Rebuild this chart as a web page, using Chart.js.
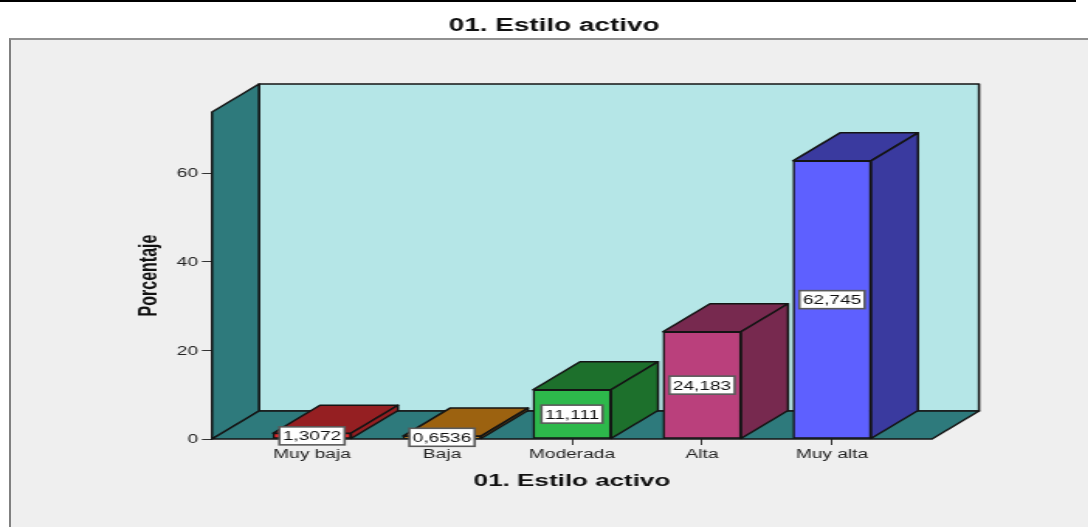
<!DOCTYPE html>
<html>
<head>
<meta charset="utf-8">
<title>01. Estilo activo</title>
<script src="https://cdn.jsdelivr.net/npm/chart.js@4"></script>
<style>
  html, body { margin: 0; padding: 0; background: #fff; overflow: hidden; width: 1088px; height: 527px; }
  #rule { position: absolute; left: 0; top: 0; width: 1076px; height: 2px; background: #000; }
  #panel { position: absolute; left: 9px; top: 38px; right: 0; bottom: 0; background: #efefef;
           border-left: 2px solid #808080; border-top: 2px solid #909090; }
  /* the original picture is a stretched SPSS export, so the whole canvas is stretched too */
  #wrap { position: absolute; left: 0; top: 0; width: 702px; height: 527px;
          transform: scaleX(1.55); transform-origin: 0 0; }
</style>
</head>
<body>
<div id="rule"></div>
<div id="panel"></div>
<div id="wrap"><canvas id="grafico" width="702" height="527"></canvas></div>
<script>
var titulo = '01. Estilo activo';
var tituloY = 'Porcentaje';
var categorias = ['Muy baja', 'Baja', 'Moderada', 'Alta', 'Muy alta'];
var valores = [1.3072, 0.6536, 11.111, 24.183, 62.745];
var etiquetas = ['1,3072', '0,6536', '11,111', '24,183', '62,745'];
var ticksY = [0, 20, 40, 60];
var coloresFrente = ['#e8282c', '#e08a18', '#2db84b', '#ba407c', '#5e60ff'];
var coloresLado = ['#951f22', '#9c6210', '#1d702c', '#77294f', '#3a3a9f'];

var fondoPared = '#b5e6e7';
var paredLado = '#2e7a7c';
var linea = '#141414';
var escala = 1.55;
var profX = 47 / escala;
var profY = 28;

function poligono(ctx, puntos, color) {
  ctx.beginPath();
  ctx.moveTo(puntos[0][0], puntos[0][1]);
  for (let i = 1; i < puntos.length; i++) {
    ctx.lineTo(puntos[i][0], puntos[i][1]);
  }
  ctx.closePath();
  ctx.fillStyle = color;
  ctx.fill();
  ctx.stroke();
}

var caja3d = {
  id: 'caja3d',
  beforeDatasetsDraw(chart) {
    const ctx = chart.ctx;
    const a = chart.chartArea;
    ctx.save();
    ctx.strokeStyle = linea;
    ctx.lineWidth = 1.5;
    ctx.lineJoin = 'round';
    // paredes y piso
    poligono(ctx, [[a.left + profX, a.top - profY], [a.right + profX, a.top - profY],
                   [a.right + profX, a.bottom - profY], [a.left + profX, a.bottom - profY]], fondoPared);
    poligono(ctx, [[a.left, a.top], [a.left + profX, a.top - profY],
                   [a.left + profX, a.bottom - profY], [a.left, a.bottom]], paredLado);
    poligono(ctx, [[a.left, a.bottom], [a.left + profX, a.bottom - profY],
                   [a.right + profX, a.bottom - profY], [a.right, a.bottom]], paredLado);
    // cara superior y lateral de cada barra
    chart.getDatasetMeta(0).data.forEach(function(bar, i) {
      const p = bar.getProps(['x', 'y', 'base', 'width'], true);
      const izq = p.x - p.width / 2;
      const der = p.x + p.width / 2;
      poligono(ctx, [[izq, p.y], [izq + profX, p.y - profY], [der + profX, p.y - profY], [der, p.y]], coloresLado[i]);
      poligono(ctx, [[der, p.y], [der + profX, p.y - profY], [der + profX, p.base - profY], [der, p.base]], coloresLado[i]);
    });
    ctx.restore();
  },
  afterDatasetsDraw(chart) {
    const ctx = chart.ctx;
    ctx.save();
    ctx.font = '12.3px "Liberation Sans", Arial, sans-serif';
    ctx.textAlign = 'center';
    ctx.textBaseline = 'middle';
    chart.getDatasetMeta(0).data.forEach(function(bar, i) {
      const p = bar.getProps(['x', 'y', 'base'], true);
      const cy = (p.y + p.base) / 2;
      const w = ctx.measureText(etiquetas[i]).width + 4.5;
      const h = 18;
      ctx.fillStyle = '#fff';
      ctx.strokeStyle = '#5a5a5a';
      ctx.lineWidth = 1.6;
      ctx.fillRect(p.x - w / 2, cy - h / 2, w, h);
      ctx.strokeRect(p.x - w / 2, cy - h / 2, w, h);
      ctx.fillStyle = '#111';
      ctx.fillText(etiquetas[i], p.x, cy + 1);
    });
    // titulo general
    ctx.font = 'bold 18px "Liberation Sans", Arial, sans-serif';
    ctx.fillStyle = '#111';
    ctx.fillText(titulo, 554 / escala, 26.5);
    ctx.restore();
  }
};

new Chart(document.getElementById('grafico'), {
  type: 'bar',
  data: {
    datasets: [{
      data: valores.map(function(v, i) { return { x: i, y: v }; }),
      backgroundColor: coloresFrente,
      borderColor: linea,
      borderWidth: 1.5,
      borderSkipped: false,
      barThickness: 78 / escala
    }]
  },
  plugins: [caja3d],
  options: {
    responsive: false,
    animation: false,
    layout: { padding: { left: 0, right: 702 - 932 / escala, top: 112, bottom: 0 } },
    plugins: { legend: { display: false }, tooltip: { enabled: false }, title: { display: false } },
    scales: {
      x: {
        type: 'linear',
        offset: false,
        min: -100 / 130,
        max: categorias.length - 1 + 100 / 130,
        afterBuildTicks: function(s) { s.ticks = categorias.map(function(c, i) { return { value: i }; }); },
        afterFit: function(s) { s.height = 88; },
        grid: { offset: false, drawOnChartArea: false, drawTicks: true, tickLength: 6, tickColor: '#333', tickWidth: 1 },
        border: { display: false },
        ticks: {
          autoSkip: false,
          maxRotation: 0,
          padding: 2,
          color: '#222',
          font: { family: '"Liberation Sans", Arial, sans-serif', size: 12.3 },
          callback: function(v) { return categorias[v]; }
        },
        title: {
          display: true,
          text: titulo,
          color: '#111',
          font: { family: '"Liberation Sans", Arial, sans-serif', size: 16.8, weight: 'bold' },
          padding: { top: 0, bottom: 36 }
        }
      },
      y: {
        min: 0,
        max: 73.76,
        afterBuildTicks: function(s) { s.ticks = ticksY.map(function(v) { return { value: v }; }); },
        afterFit: function(s) { s.width = 212 / escala; },
        grid: { drawOnChartArea: false, drawTicks: true, tickLength: 6.5, tickColor: '#333', tickWidth: 1 },
        border: { display: false },
        ticks: {
          padding: 2.5,
          labelOffset: 1,
          color: '#222',
          font: { family: '"Liberation Sans", Arial, sans-serif', size: 12.3 }
        },
        title: {
          display: true,
          text: tituloY,
          color: '#111',
          font: { family: '"Liberation Sans", Arial, sans-serif', size: 16, weight: 'bold' },
          padding: { top: 86.5, bottom: 0 }
        }
      }
    }
  }
});
</script>
</body>
</html>
